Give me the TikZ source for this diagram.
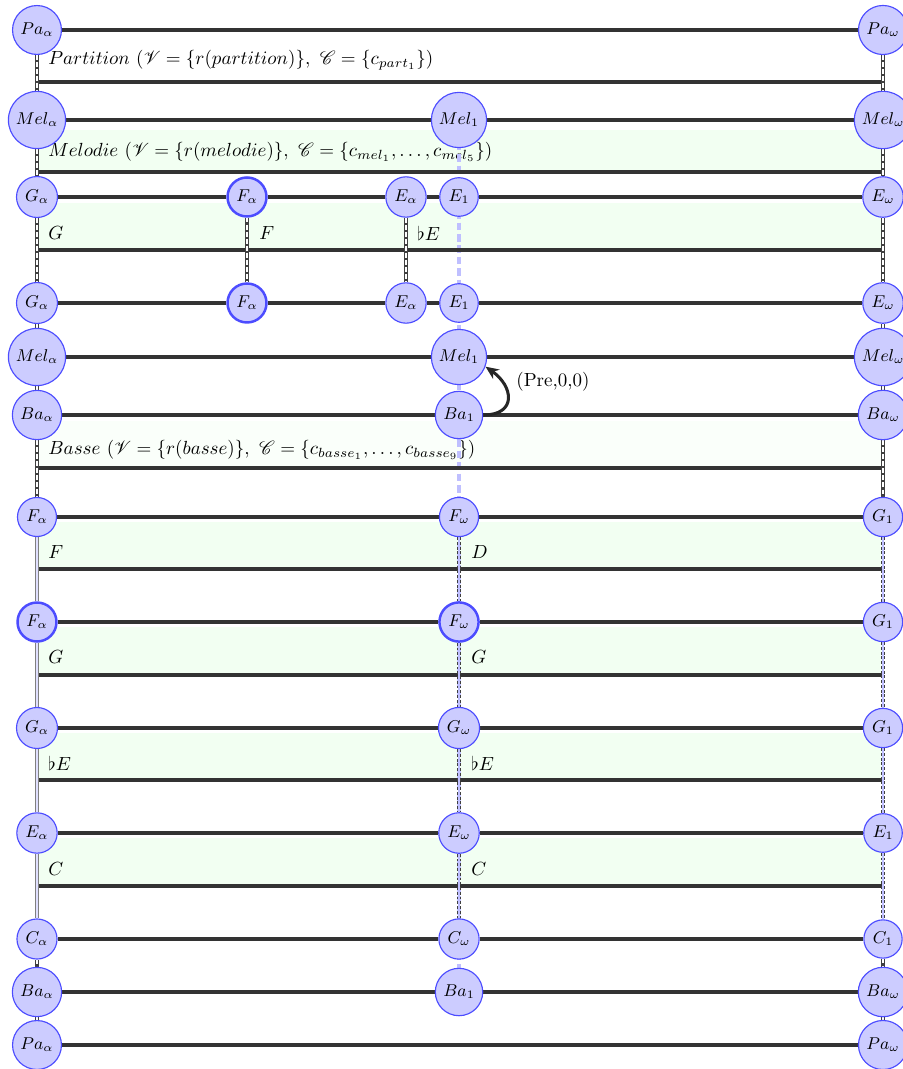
\documentclass[tikz,border=0pt]{standalone}
\usepackage{mathrsfs}
\usetikzlibrary{arrows.meta}
\pgfdeclarelayer{bg}
\pgfsetlayers{bg,main}
\begin{document}
\begin{tikzpicture}[x=0.526pt,y=-0.526pt,
  st/.style={circle, draw=blue!70, fill=blue!20, inner sep=2.6pt, font=\small, line width=0.6pt},
  stk/.style={st, line width=1.3pt},
  hl/.style={draw=black!80, line width=1.7pt},
  boxfill/.style={fill=green!5, draw=none},
  lab/.style={anchor=west, inner sep=0pt},
  vA/.style={draw=black!75, line width=2.4pt, postaction={draw=white, line width=0.9pt, dash pattern=on 2.5pt off 1.2pt}},
  vB/.style={draw=black!75, line width=2.6pt, dash pattern=on 1.5pt off 1pt, postaction={draw=blue!25, line width=1.1pt, solid}},
  vC/.style={draw=black!50, line width=2.2pt, postaction={draw=blue!12, line width=1pt}},
  corr/.style={draw=blue!25, line width=2pt, dash pattern=on 4pt off 2pt}
]
\useasboundingbox (0,0) rectangle (903,1069);
% ---------- nodes ----------
\node[st] (pa1a) at (37,30) {$Pa_\alpha$};
\node[st] (pa1w) at (883,30) {$Pa_\omega$};
\node[st] (mel2a) at (37,120) {$Mel_\alpha$};
\node[st] (mel2m) at (459,120) {$Mel_1$};
\node[st] (mel2w) at (883,120) {$Mel_\omega$};
\node[st] (g3a) at (37,197) {$G_\alpha$};
\node[stk] (f3a) at (247,197) {$F_\alpha$};
\node[st] (e3a) at (406,197) {$E_\alpha$};
\node[st] (e3m) at (459,197) {$E_1$};
\node[st] (e3w) at (883,197) {$E_\omega$};
\node[st] (g4a) at (37,303) {$G_\alpha$};
\node[stk] (f4a) at (247,303) {$F_\alpha$};
\node[st] (e4a) at (406,303) {$E_\alpha$};
\node[st] (e4m) at (459,303) {$E_1$};
\node[st] (e4w) at (883,303) {$E_\omega$};
\node[st] (mel5a) at (37,357) {$Mel_\alpha$};
\node[st] (mel5m) at (459,357) {$Mel_1$};
\node[st] (mel5w) at (883,357) {$Mel_\omega$};
\node[st] (ba6a) at (37,415) {$Ba_\alpha$};
\node[st] (ba6m) at (459,415) {$Ba_1$};
\node[st] (ba6w) at (883,415) {$Ba_\omega$};
\node[st] (f7a) at (37,517) {$F_\alpha$};
\node[st] (f7m) at (459,517) {$F_\omega$};
\node[st] (g7w) at (883,517) {$G_1$};
\node[stk] (f8a) at (37,622) {$F_\alpha$};
\node[stk] (f8m) at (459,622) {$F_\omega$};
\node[st] (g8w) at (883,622) {$G_1$};
\node[st] (g9a) at (37,728) {$G_\alpha$};
\node[st] (g9m) at (459,728) {$G_\omega$};
\node[st] (g9w) at (883,728) {$G_1$};
\node[st] (e10a) at (37,833) {$E_\alpha$};
\node[st] (e10m) at (459,833) {$E_\omega$};
\node[st] (e10w) at (883,833) {$E_1$};
\node[st] (c11a) at (37,939) {$C_\alpha$};
\node[st] (c11m) at (459,939) {$C_\omega$};
\node[st] (c11w) at (883,939) {$C_1$};
\node[st] (ba12a) at (37,992) {$Ba_\alpha$};
\node[st] (ba12m) at (459,992) {$Ba_1$};
\node[st] (ba12w) at (883,992) {$Ba_\omega$};
\node[st] (pa13a) at (37,1045) {$Pa_\alpha$};
\node[st] (pa13w) at (883,1045) {$Pa_\omega$};
% ---------- background ----------
\begin{pgfonlayer}{bg}
% fills
\fill[boxfill] (37,130) rectangle (883,172);
\fill[boxfill] (37,203) rectangle (883,250);
\fill[fill=green!2] (37,421) rectangle (883,468);
\fill[boxfill] (37,522) rectangle (883,569);
\fill[boxfill] (37,627) rectangle (883,675);
\fill[boxfill] (37,733) rectangle (883,780);
\fill[boxfill] (37,838) rectangle (883,886);
% labels
\node[lab] (t1) at (48,60) {$Partition~(\mathscr{V}=\{r(partition)\},~\mathscr{C}=\{c_{part_1}\})$};
\node[lab] (t2) at (48,152) {$Melodie~(\mathscr{V}=\{r(melodie)\},~\mathscr{C}=\{c_{mel_1},\ldots,c_{mel_5}\})$};
\node[lab] (t3a) at (48,233) {$G$};
\node[lab] (t3b) at (259,233) {$F$};
\node[lab] (t3c) at (417,233) {$\flat E$};
\node[lab] (t6) at (48,450) {$Basse~(\mathscr{V}=\{r(basse)\},~\mathscr{C}=\{c_{basse_1},\ldots,c_{basse_9}\})$};
\node[lab] (t7a) at (48,552) {$F$};
\node[lab] (t7b) at (471,552) {$D$};
\node[lab] (t8a) at (48,657) {$G$};
\node[lab] (t8b) at (471,657) {$G$};
\node[lab] (t9a) at (48,763) {$\flat E$};
\node[lab] (t9b) at (471,763) {$\flat E$};
\node[lab] (t10a) at (48,869) {$C$};
\node[lab] (t10b) at (471,869) {$C$};
% correspondence line
\draw[corr] (mel2m.center) -- (ba12m.center);
% box bottom lines
\foreach \yy in {82,172,250,468,569,675,780,886}
  \draw[hl] (37,\yy) -- (883,\yy);
% row lines
\draw[hl] (pa1a) -- (pa1w);
\draw[hl] (mel2a) -- (mel2m) -- (mel2w);
\draw[hl] (g3a) -- (f3a) -- (e3a) -- (e3m) -- (e3w);
\draw[hl] (g4a) -- (f4a) -- (e4a) -- (e4m) -- (e4w);
\draw[hl] (mel5a) -- (mel5m) -- (mel5w);
\draw[hl] (ba6a) -- (ba6m) -- (ba6w);
\draw[hl] (f7a) -- (f7m) -- (g7w);
\draw[hl] (f8a) -- (f8m) -- (g8w);
\draw[hl] (g9a) -- (g9m) -- (g9w);
\draw[hl] (e10a) -- (e10m) -- (e10w);
\draw[hl] (c11a) -- (c11m) -- (c11w);
\draw[hl] (ba12a) -- (ba12m) -- (ba12w);
\draw[hl] (pa13a) -- (pa13w);
% verticals left
\draw[vA] (pa1a) -- (mel2a);
\draw[vA] (mel2a) -- (g3a);
\draw[vA] (g3a) -- (g4a);
\draw[vA] (g4a) -- (mel5a);
\draw[vA] (mel5a) -- (ba6a);
\draw[vA] (ba6a) -- (f7a);
\draw[vC] (f7a) -- (f8a);
\draw[vC] (f8a) -- (g9a);
\draw[vC] (g9a) -- (e10a);
\draw[vC] (e10a) -- (c11a);
\draw[vA] (c11a) -- (ba12a);
\draw[vA] (ba12a) -- (pa13a);
% verticals inner
\draw[vA] (f3a) -- (f4a);
\draw[vA] (e3a) -- (e4a);
\draw[vB] (f7m) -- (f8m);
\draw[vB] (f8m) -- (g9m);
\draw[vB] (g9m) -- (e10m);
\draw[vB] (e10m) -- (c11m);
% verticals right
\draw[vA] (pa1w) -- (mel2w);
\draw[vA] (mel2w) -- (e3w);
\draw[vA] (e3w) -- (e4w);
\draw[vA] (e4w) -- (mel5w);
\draw[vA] (mel5w) -- (ba6w);
\draw[vA] (ba6w) -- (g7w);
\draw[vB] (g7w) -- (g8w);
\draw[vB] (g8w) -- (g9w);
\draw[vB] (g9w) -- (e10w);
\draw[vB] (e10w) -- (c11w);
\draw[vA] (c11w) -- (ba12w);
\draw[vA] (ba12w) -- (pa13w);
\end{pgfonlayer}
% arrow
\draw[-{Stealth[length=7pt,width=6pt]}, line width=1.6pt, black!85] (ba6m.east) to[out=0,in=-35,looseness=1.8] (mel5m.-20);
\node[anchor=west, inner sep=0pt] (pre) at (516,382) {(Pre,0,0)};
\end{tikzpicture}
\end{document}
